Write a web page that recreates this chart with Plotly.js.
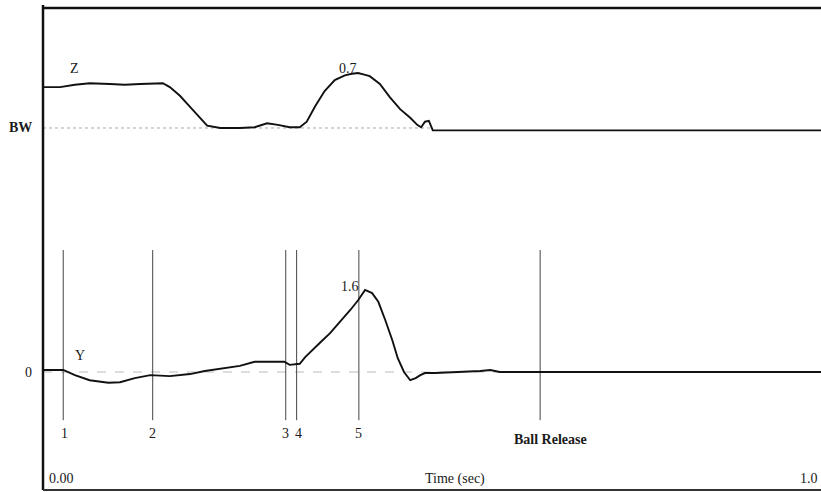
<!DOCTYPE html>
<html><head><meta charset="utf-8">
<script src="https://cdn.plot.ly/plotly-3.0.1.min.js"></script>
<style>html,body{margin:0;padding:0;background:#fff;}#chart{width:821px;height:492px;}</style>
</head><body><div id="chart"></div>
<script>
// Z (vertical) force, relative to body weight (BW = 0)
const zTime = [0,0.022,0.041,0.060,0.086,0.105,0.125,0.154,0.163,0.176,0.189,0.202,0.211,0.228,0.253,0.272,0.280,0.288,0.302,0.317,0.330,0.339,0.350,0.362,0.375,0.388,0.397,0.405,0.413,0.420,0.433,0.446,0.459,0.472,0.481,0.486,0.491,0.496,0.501,0.700,1.0];
const zForce = [0.52,0.52,0.55,0.57,0.56,0.55,0.56,0.57,0.52,0.41,0.27,0.13,0.03,0,0,0.01,0.04,0.06,0.04,0.01,0.01,0.08,0.28,0.47,0.61,0.67,0.69,0.70,0.68,0.66,0.56,0.39,0.24,0.13,0.04,0.01,0.08,0.09,-0.03,-0.03,-0.03];
// Y (anterior-posterior) force
const yTime = [0,0.026,0.041,0.060,0.084,0.099,0.118,0.138,0.163,0.189,0.208,0.228,0.253,0.272,0.292,0.310,0.317,0.330,0.337,0.346,0.356,0.369,0.382,0.395,0.405,0.414,0.423,0.431,0.440,0.449,0.456,0.464,0.472,0.479,0.485,0.491,0.504,0.536,0.562,0.575,0.587,0.800,1.0];
const yForce = [0.04,0.04,-0.06,-0.16,-0.21,-0.20,-0.12,-0.06,-0.08,-0.04,0.02,0.06,0.12,0.20,0.20,0.20,0.14,0.16,0.29,0.43,0.57,0.76,0.98,1.21,1.40,1.60,1.54,1.37,1.01,0.62,0.27,0,-0.16,-0.12,-0.06,-0.02,-0.02,0,0.02,0.04,0,0,0];
// Event markers
const eventTimes = [0.026,0.141,0.312,0.326,0.406,0.639];
const eventLabels = ["1","2","3","4","5","Ball Release"];
const eventLabelX = [0.028,0.141,0.312,0.328,0.405,0.652];
const axisLabels = ["0.00","Time (sec)","1.0"];

const font = {family:"Liberation Serif, Times New Roman, serif", size:14, color:"#1a1a1a"};
const traces = [
  {x:zTime, y:zForce, yaxis:"y2", type:"scatter", mode:"lines", line:{color:"#111", width:1.9, shape:"linear"}, hoverinfo:"skip"},
  {x:yTime, y:yForce, yaxis:"y", type:"scatter", mode:"lines", line:{color:"#111", width:1.9, shape:"linear"}, hoverinfo:"skip"}
];
const shapes = [
  // frame
  {type:"line", xref:"paper", yref:"paper", x0:0, x1:0, y0:0, y1:1.006, line:{color:"#111", width:2.5}},
  {type:"line", xref:"paper", yref:"paper", x0:0, x1:1, y0:1, y1:1, line:{color:"#111", width:2.5}},
  {type:"line", xref:"paper", yref:"paper", x0:0, x1:1, y0:0, y1:0, line:{color:"#333", width:2}},
  // BW reference and zero reference
  {type:"line", layer:"below", xref:"x", yref:"y2", x0:0, x1:zTime[zTime.length-3], y0:0, y1:0, line:{color:"#aaa", width:1, dash:"dot"}},
  {type:"line", layer:"below", xref:"x", yref:"y", x0:0, x1:1, y0:0, y1:0, line:{color:"#bbb", width:1, dash:"dash"}}
];
eventTimes.forEach(t => shapes.push({type:"line", layer:"below", xref:"x", yref:"y", x0:t, x1:t, y0:-0.94, y1:2.38, line:{color:"#444", width:1}}));

const annotations = [
  {text:"<b>BW</b>", x:-0.029, xref:"paper", y:0, yref:"y2", showarrow:false, font:font, xanchor:"center", yanchor:"middle"},
  {text:"0", x:-0.019, xref:"paper", y:0, yref:"y", showarrow:false, font:font, xanchor:"center", yanchor:"middle"},
  {text:"Z", x:0.041, xref:"x", y:0.76, yref:"y2", showarrow:false, font:font, yanchor:"middle"},
  {text:"0.7", x:0.392, xref:"x", y:0.76, yref:"y2", showarrow:false, font:font, yanchor:"middle"},
  {text:"Y", x:0.047, xref:"x", y:0.33, yref:"y", showarrow:false, font:font, yanchor:"middle"},
  {text:"1.6", x:0.395, xref:"x", y:1.66, yref:"y", showarrow:false, font:font, yanchor:"middle"},
  {text:axisLabels[0], x:0.024, xref:"x", y:0.023, yref:"paper", showarrow:false, font:font, yanchor:"middle"},
  {text:axisLabels[1], x:0.53, xref:"x", y:0.023, yref:"paper", showarrow:false, font:font, yanchor:"middle"},
  {text:axisLabels[2], x:0.984, xref:"x", y:0.023, yref:"paper", showarrow:false, font:font, yanchor:"middle"}
];
eventLabels.forEach((lab,i) => annotations.push({text: lab==="Ball Release" ? "<b>"+lab+"</b>" : lab, x:eventLabelX[i], xref:"x", y: lab==="Ball Release" ? -1.31 : -1.19, yref:"y", showarrow:false, font:font, yanchor:"middle"}));

const layout = {
  width:821, height:492,
  margin:{l:43, r:0, t:8, b:2},
  paper_bgcolor:"#fff", plot_bgcolor:"#fff",
  showlegend:false,
  xaxis:{range:[0,1.0], visible:false, showgrid:false, zeroline:false},
  yaxis:{range:[-2.302,7.102], visible:false, showgrid:false, zeroline:false},
  yaxis2:{range:[-4.607,1.527], overlaying:"y", visible:false, showgrid:false, zeroline:false},
  shapes:shapes, annotations:annotations
};
Plotly.newPlot("chart", traces, layout, {staticPlot:true, displayModeBar:false});
</script></body></html>
